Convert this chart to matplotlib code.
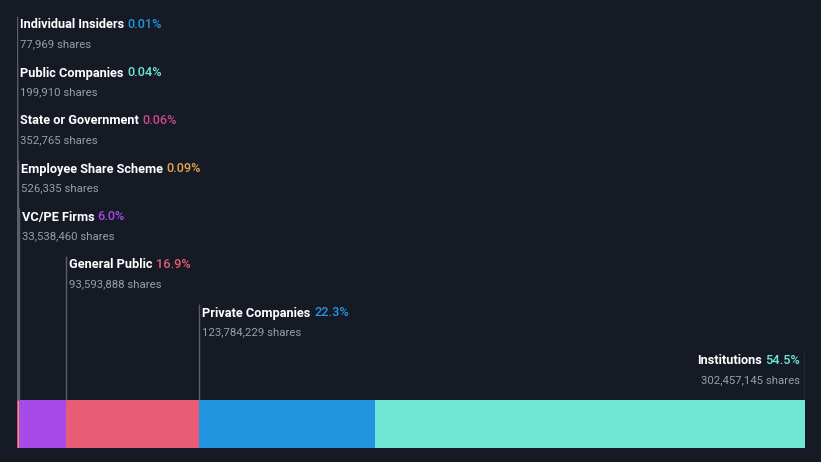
import matplotlib
matplotlib.use("Agg")
import matplotlib.pyplot as plt
import matplotlib.transforms as mtransforms

categories = ["Individual Insiders", "Public Companies", "State or Government",
              "Employee Share Scheme", "VC/PE Firms", "General Public",
              "Private Companies", "Institutions"]
shares = [77969, 199910, 352765, 526335, 33538460, 93593888, 123784229, 302457145]
pct_labels = ["0.01%", "0.04%", "0.06%", "0.09%", "6.0%", "16.9%", "22.3%", "54.5%"]
share_labels = ["77,969 shares", "199,910 shares", "352,765 shares", "526,335 shares",
                "33,538,460 shares", "93,593,888 shares", "123,784,229 shares",
                "302,457,145 shares"]
colors = ["#2394df", "#6ee8d4", "#c9498a", "#e8a54b", "#a64bea", "#e85d75",
          "#2394df", "#6ee8d5"]

BG = "#151a24"
W, H = 821, 462
fig = plt.figure(figsize=(W / 100, H / 100), dpi=100, facecolor=BG)
plt.rcParams['font.family'] = ['Roboto', 'DejaVu Sans']

total = sum(shares)
ax = fig.add_axes([17 / W, 0, 788 / W, 1])
ax.set_facecolor(BG)
ax.set_xlim(0, total)
ax.set_ylim(H, 0)
ax.axis("off")

# bar (y in pixel rows)
left = 0
lefts = []
for s, c in zip(shares, colors):
    ax.barh(424, s, left=left, height=48, color=c, linewidth=0)
    lefts.append(left)
    left += s

title_y0 = 25
step = 48
n = len(categories)
for i in range(n):
    ty = title_y0 + i * step
    sy = 44 + i * step
    last = (i == n - 1)
    xline = total if last else lefts[i]
    ax.plot([xline, xline], [ty - 9, 400], color="#5a606b", lw=1, solid_capstyle="butt")
    if not last:
        off = mtransforms.offset_copy(ax.transData, fig=fig, x=3, y=0, units="dots")
        t1 = ax.text(xline, ty, categories[i], transform=off, color="white",
                     fontsize=9.2, fontweight="bold", va="center", ha="left")
        ax.annotate(pct_labels[i], xy=(1, 0.5), xycoords=t1, xytext=(2.5, 0),
                    textcoords="offset points", color=colors[i], fontsize=9.2,
                    fontweight="medium", va="center", ha="left")
        ax.text(xline, sy, share_labels[i], transform=off, color="#9a9ea6",
                fontsize=8.2, va="center", ha="left")
    else:
        off = mtransforms.offset_copy(ax.transData, fig=fig, x=-5, y=0, units="dots")
        t2 = ax.text(xline, ty, pct_labels[i], transform=off, color=colors[i],
                     fontsize=9.2, fontweight="medium", va="center", ha="right")
        ax.annotate(categories[i], xy=(0, 0.5), xycoords=t2, xytext=(-2.5, 0),
                    textcoords="offset points", color="white", fontsize=9.2,
                    fontweight="bold", va="center", ha="right")
        ax.text(xline, sy, share_labels[i], transform=off, color="#9a9ea6",
                fontsize=8.2, va="center", ha="right")

fig.savefig("out.png", dpi=100, facecolor=BG)
